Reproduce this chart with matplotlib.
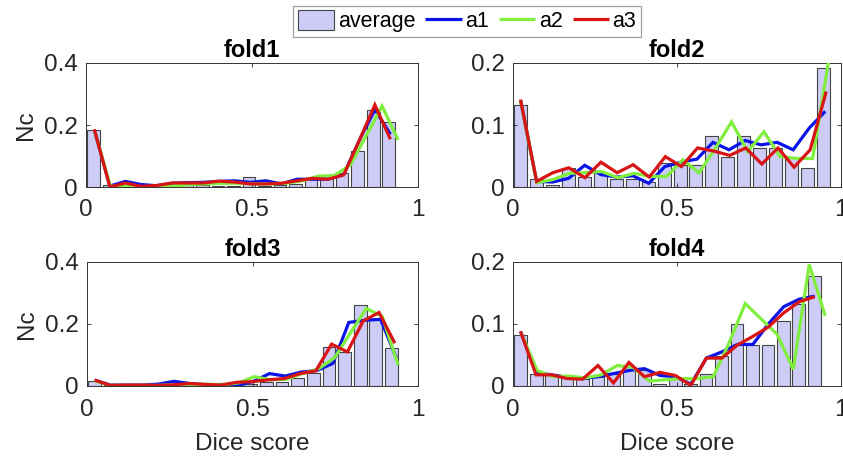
import numpy as np
import matplotlib
matplotlib.use("Agg")
import matplotlib.pyplot as plt

plt.rcParams['font.family'] = ['Liberation Sans', 'DejaVu Sans']

titles = ["fold1", "fold2", "fold3", "fold4"]
methods = ["a1", "a2", "a3"]

# average histogram (20 bins, from 0 to the last edge)
avg_last_edge = [0.935, 0.97, 0.943, 0.942]
avg_fold1 = [0.183, 0.005, 0.004, 0.003, 0.004, 0.005, 0.005, 0.005, 0.004, 0.003,
             0.031, 0.004, 0.006, 0.010, 0.028, 0.028, 0.044, 0.117, 0.249, 0.211]
avg_fold2 = [0.132, 0.013, 0.004, 0.031, 0.016, 0.022, 0.013, 0.013, 0.008, 0.039,
             0.035, 0.036, 0.082, 0.049, 0.082, 0.063, 0.063, 0.049, 0.031, 0.192]
avg_fold3 = [0.017, 0.003, 0.002, 0.002, 0.002, 0.003, 0.003, 0.003, 0.002, 0.003,
             0.005, 0.014, 0.014, 0.025, 0.041, 0.125, 0.109, 0.261, 0.215, 0.122]
avg_fold4 = [0.082, 0.020, 0.019, 0.014, 0.012, 0.015, 0.019, 0.031, 0.026, 0.004,
             0.011, 0.004, 0.020, 0.049, 0.100, 0.066, 0.066, 0.105, 0.133, 0.178]

# per-method curves: first and last bin centre, then 20 values
a1_span = [(0.025, 0.917), (0.023, 0.952), (0.023, 0.935), (0.023, 0.920)]
a2_span = [(0.025, 0.940), (0.023, 0.963), (0.023, 0.940), (0.025, 0.952)]
a3_span = [(0.025, 0.917), (0.023, 0.955), (0.023, 0.930), (0.023, 0.920)]

a1_fold1 = [0.185, 0.003, 0.018, 0.008, 0.004, 0.012, 0.014, 0.015, 0.018, 0.020,
            0.015, 0.020, 0.010, 0.025, 0.025, 0.025, 0.040, 0.150, 0.250, 0.170]
a2_fold1 = [0.185, 0.003, 0.002, 0.000, 0.000, 0.004, 0.008, 0.010, 0.012, 0.012,
            0.010, 0.010, 0.012, 0.020, 0.035, 0.037, 0.070, 0.165, 0.261, 0.152]
a3_fold1 = [0.186, 0.000, 0.013, 0.002, 0.005, 0.013, 0.013, 0.013, 0.019, 0.016,
            0.010, 0.010, 0.012, 0.020, 0.028, 0.025, 0.039, 0.150, 0.265, 0.154]

a1_fold2 = [0.140, 0.009, 0.008, 0.014, 0.035, 0.020, 0.016, 0.018, 0.006, 0.033,
            0.040, 0.045, 0.072, 0.060, 0.075, 0.068, 0.072, 0.060, 0.095, 0.122]
a2_fold2 = [0.140, 0.007, 0.012, 0.022, 0.023, 0.025, 0.015, 0.022, 0.017, 0.017,
            0.044, 0.023, 0.062, 0.105, 0.057, 0.089, 0.049, 0.046, 0.046, 0.205]
a3_fold2 = [0.141, 0.009, 0.023, 0.031, 0.015, 0.040, 0.023, 0.036, 0.016, 0.049,
            0.033, 0.063, 0.058, 0.051, 0.063, 0.037, 0.063, 0.032, 0.060, 0.154]

a1_fold3 = [0.019, 0.003, 0.003, 0.003, 0.006, 0.015, 0.008, 0.004, 0.005, 0.002,
            0.015, 0.040, 0.032, 0.045, 0.050, 0.073, 0.205, 0.212, 0.215, 0.090]
a2_fold3 = [0.017, 0.002, 0.002, 0.002, 0.002, 0.004, 0.004, 0.006, 0.004, 0.010,
            0.030, 0.020, 0.022, 0.040, 0.055, 0.090, 0.170, 0.250, 0.225, 0.068]
a3_fold3 = [0.019, 0.002, 0.003, 0.003, 0.002, 0.004, 0.008, 0.005, 0.003, 0.012,
            0.014, 0.020, 0.024, 0.040, 0.049, 0.135, 0.110, 0.210, 0.237, 0.138]

a1_fold4 = [0.088, 0.022, 0.018, 0.014, 0.012, 0.015, 0.020, 0.025, 0.028, 0.017,
            0.015, 0.003, 0.045, 0.055, 0.067, 0.067, 0.100, 0.128, 0.140, 0.145]
a2_fold4 = [0.085, 0.025, 0.015, 0.016, 0.013, 0.018, 0.033, 0.030, 0.008, 0.010,
            0.012, 0.012, 0.015, 0.070, 0.133, 0.108, 0.083, 0.027, 0.196, 0.113]
a3_fold4 = [0.088, 0.018, 0.018, 0.012, 0.011, 0.033, 0.005, 0.038, 0.015, 0.022,
            0.017, 0.001, 0.045, 0.045, 0.066, 0.080, 0.095, 0.118, 0.136, 0.144]

y_max = [0.4, 0.2, 0.4, 0.2]
y_ticks = [[0, 0.2, 0.4], [0, 0.1, 0.2], [0, 0.2, 0.4], [0, 0.1, 0.2]]
x_ticks = [0, 0.5, 1]

avg_all = [avg_fold1, avg_fold2, avg_fold3, avg_fold4]
a1_all = [a1_fold1, a1_fold2, a1_fold3, a1_fold4]
a2_all = [a2_fold1, a2_fold2, a2_fold3, a2_fold4]
a3_all = [a3_fold1, a3_fold2, a3_fold3, a3_fold4]

colors = {"a1": "#0a14e6", "a2": "#7fee3c", "a3": "#d81414"}
bar_face = "#ccccf7"
bar_edge = "#444444"
axis_col = "#262626"
FS = 17.5

W, H = 843, 458
fig = plt.figure(figsize=(W / 100, H / 100), dpi=100)
boxes = [(86, 63, 418, 187), (513, 63, 841, 187), (87, 262, 418, 386), (513, 262, 841, 386)]

handles = None
for k in range(4):
    l, t, r, b = boxes[k]
    ax = fig.add_axes([l / W, 1 - b / H, (r - l) / W, (b - t) / H])
    vals = avg_all[k]
    n = len(vals)
    binw = avg_last_edge[k] / n
    centers = (np.arange(n) + 0.5) * binw
    hb = ax.bar(centers, vals, width=0.82 * binw, color=bar_face, edgecolor=bar_edge,
                linewidth=0.8, label="average", zorder=1)
    lines = []
    for name, allv, spans in (("a1", a1_all, a1_span), ("a2", a2_all, a2_span), ("a3", a3_all, a3_span)):
        v = allv[k]
        x0, x1 = spans[k]
        xs = np.linspace(x0, x1, len(v))
        ln, = ax.plot(xs, v, color=colors[name], lw=2.3, label=name, zorder=3,
                      solid_joinstyle='miter', solid_capstyle='butt')
        lines.append(ln)
    if handles is None:
        handles = [hb] + lines
    ax.set_xlim(0, 1)
    ax.set_ylim(0, y_max[k])
    ax.set_xticks(x_ticks)
    ax.set_xticklabels(["0", "0.5", "1"])
    ax.set_yticks(y_ticks[k])
    ax.set_yticklabels(["0" if v == 0 else f"{v:g}" for v in y_ticks[k]])
    ax.tick_params(direction='in', top=True, right=True, length=3, width=0.6,
                   labelsize=FS, colors=axis_col)
    ax.tick_params(axis='x', pad=9)
    ax.tick_params(axis='y', pad=6)
    for s in ax.spines.values():
        s.set_color("#333333")
        s.set_linewidth(0.7)
    ax.set_title(titles[k], fontsize=17, fontweight='bold', pad=4)
    if k in (0, 2):
        ax.set_ylabel("Nc", fontsize=FS, color=axis_col, labelpad=5)
    if k in (2, 3):
        ax.set_xlabel("Dice score", fontsize=FS, color=axis_col, labelpad=9)

leg = fig.legend(handles, ["average"] + methods, loc='upper center', ncol=4,
                 bbox_to_anchor=(467 / W, 1 - 6 / H), fontsize=15.5, frameon=True,
                 fancybox=False, edgecolor="#888888", handlelength=1.7, handleheight=1.0,
                 handletextpad=0.16, columnspacing=0.46, borderpad=0.2, borderaxespad=0)
leg.get_frame().set_linewidth(0.9)

fig.savefig("out.png", dpi=100)
